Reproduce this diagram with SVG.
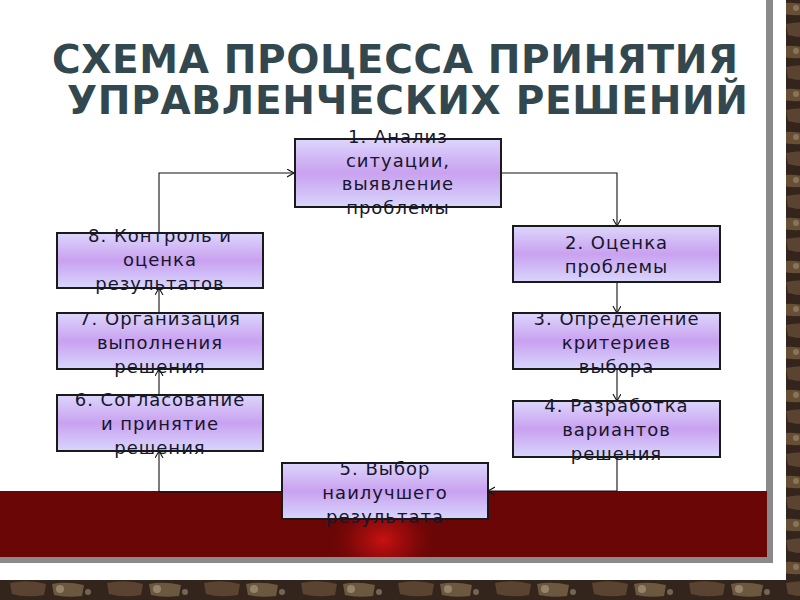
<svg xmlns="http://www.w3.org/2000/svg" width="800" height="600" viewBox="0 0 800 600">
  <defs>
    <linearGradient id="boxFill" x1="0" y1="0" x2="0" y2="1">
      <stop offset="0" stop-color="#dcd6fc"/>
      <stop offset="0.5" stop-color="#c9a1f0"/>
      <stop offset="1" stop-color="#d8d6fc"/>
    </linearGradient>
    <radialGradient id="glow" cx="0.5" cy="0.5" r="0.5">
      <stop offset="0" stop-color="#c81212"/>
      <stop offset="0.45" stop-color="#9c0c0c" stop-opacity="0.75"/>
      <stop offset="1" stop-color="#6a0606" stop-opacity="0"/>
    </radialGradient>
    <clipPath id="bandClip">
      <rect x="0" y="491" width="767" height="66"/>
    </clipPath>
    <pattern id="brick" x="0" y="0" width="97" height="43" patternUnits="userSpaceOnUse">
      <rect width="97" height="43" fill="#33251b"/>
      <path d="M3,4 Q15,1 30,5 L34,14 Q18,17 4,13 Z" fill="#6e5639" opacity="0.85"/>
      <path d="M40,3 Q55,0 70,4 L72,12 Q56,15 42,11 Z" fill="#8c7a5c" opacity="0.7"/>
      <path d="M76,6 Q86,3 95,7 L94,15 Q84,16 77,13 Z" fill="#5a4330" opacity="0.9"/>
      <path d="M10,24 Q28,20 46,25 L44,36 Q26,39 12,35 Z" fill="#5e4632" opacity="0.9"/>
      <path d="M52,25 Q66,22 84,26 L82,37 Q66,39 54,36 Z" fill="#7a6448" opacity="0.8"/>
      <circle cx="60" cy="30" r="4" fill="#b4a88e" opacity="0.55"/>
      <circle cx="20" cy="8" r="3" fill="#a89a7e" opacity="0.5"/>
      <circle cx="88" cy="33" r="3" fill="#c0b49a" opacity="0.45"/>
    </pattern>
    <marker id="arr" markerUnits="userSpaceOnUse" markerWidth="10" markerHeight="10" refX="7" refY="4" orient="auto">
      <path d="M0,0 L7,4 L0,8" fill="none" stroke="#111" stroke-width="1.1"/>
    </marker>
  </defs>
  <style>
    .box { fill: url(#boxFill); stroke: #1a1a1a; stroke-width: 2; }
    .lbl { font-family: "DejaVu Sans", "Liberation Sans", sans-serif; font-size: 18px; letter-spacing: 1px; fill: #16162c; text-anchor: middle; }
    .title { font-family: "DejaVu Sans", "Liberation Sans", sans-serif; font-weight: bold; font-size: 39px; fill: #33484e; }
    .conn { fill: none; stroke: #111; stroke-width: 1.1; marker-end: url(#arr); }
  </style>

  <!-- background -->
  <rect x="0" y="0" width="800" height="600" fill="url(#brick)"/>
  <rect x="0" y="0" width="786" height="580" fill="#ffffff"/>
  <rect x="0" y="0" width="773" height="563" fill="#8a8a8a"/>
  <rect x="0" y="0" width="766" height="557" fill="#ffffff"/>
  <rect x="0" y="491" width="767" height="66" fill="#6a0606"/>
  <ellipse cx="383" cy="540" rx="58" ry="48" fill="url(#glow)" clip-path="url(#bandClip)"/>

  <!-- title -->
  <text class="title" x="52" y="73" textLength="686" lengthAdjust="spacing">СХЕМА ПРОЦЕССА ПРИНЯТИЯ</text>
  <text class="title" x="67" y="114" textLength="681" lengthAdjust="spacing">УПРАВЛЕНЧЕСКИХ РЕШЕНИЙ</text>

  <!-- connectors -->
  <g id="connectors">
    <path class="conn" d="M159,233 V173 H294"/>
    <path class="conn" d="M501,173 H617 V226"/>
    <path class="conn" d="M617,282 V313"/>
    <path class="conn" d="M617,369 V401"/>
    <path class="conn" d="M617,457 V491 H488"/>
    <path class="conn" d="M282,492 H159 V451"/>
    <path class="conn" d="M159,395 V369"/>
    <path class="conn" d="M159,313 V288"/>
  </g>

  <g id="n1">
    <rect class="box" x="295" y="139" width="206" height="68"/>
    <text class="lbl" x="398" y="143">1. Анализ</text>
    <text class="lbl" x="398" y="166.5">ситуации,</text>
    <text class="lbl" x="398" y="190">выявление</text>
    <text class="lbl" x="398" y="213.5">проблемы</text>
  </g>
  <g id="n2">
    <rect class="box" x="513" y="226" width="207" height="56"/>
    <text class="lbl" x="616.5" y="249">2. Оценка</text>
    <text class="lbl" x="616.5" y="273">проблемы</text>
  </g>
  <g id="n3">
    <rect class="box" x="513" y="313" width="207" height="56"/>
    <text class="lbl" x="616.5" y="325">3. Определение</text>
    <text class="lbl" x="616.5" y="349">критериев</text>
    <text class="lbl" x="616.5" y="373">выбора</text>
  </g>
  <g id="n4">
    <rect class="box" x="513" y="401" width="207" height="56"/>
    <text class="lbl" x="616.5" y="412">4. Разработка</text>
    <text class="lbl" x="616.5" y="436">вариантов</text>
    <text class="lbl" x="616.5" y="460">решения</text>
  </g>
  <g id="n5">
    <rect class="box" x="282" y="463" width="206" height="56"/>
    <text class="lbl" x="385" y="475">5. Выбор</text>
    <text class="lbl" x="385" y="499">наилучшего</text>
    <text class="lbl" x="385" y="523">результата</text>
  </g>
  <g id="n6">
    <rect class="box" x="57" y="395" width="206" height="56"/>
    <text class="lbl" x="160" y="406">6. Согласование</text>
    <text class="lbl" x="160" y="430">и принятие</text>
    <text class="lbl" x="160" y="454">решения</text>
  </g>
  <g id="n7">
    <rect class="box" x="57" y="313" width="206" height="56"/>
    <text class="lbl" x="160" y="325">7. Организация</text>
    <text class="lbl" x="160" y="349">выполнения</text>
    <text class="lbl" x="160" y="373">решения</text>
  </g>
  <g id="n8">
    <rect class="box" x="57" y="233" width="206" height="55"/>
    <text class="lbl" x="160" y="242">8. Контроль и</text>
    <text class="lbl" x="160" y="266">оценка</text>
    <text class="lbl" x="160" y="290">результатов</text>
  </g>
</svg>
